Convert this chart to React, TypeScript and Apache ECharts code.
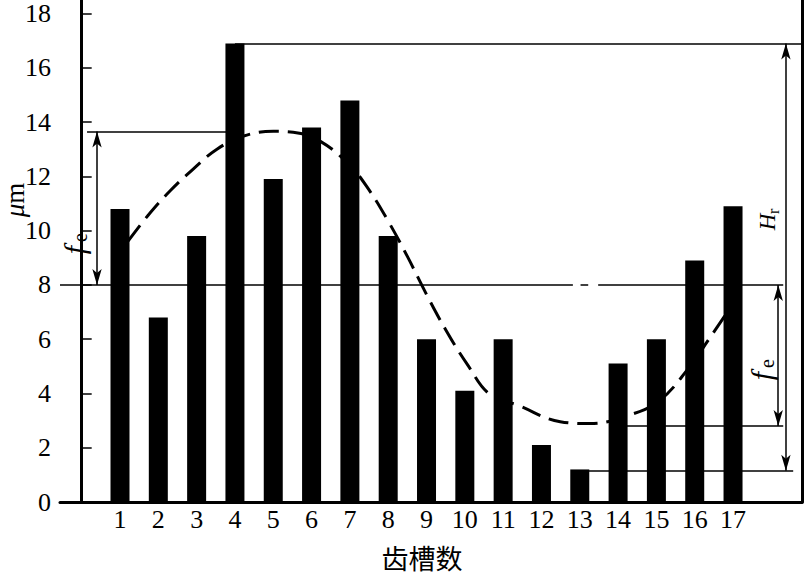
import React, { useEffect, useRef } from 'react';
import * as echarts from 'echarts';

// Slot numbers (x) and measured heights (µm)
const slots = [1, 2, 3, 4, 5, 6, 7, 8, 9, 10, 11, 12, 13, 14, 15, 16, 17];
const heights = [10.8, 6.8, 9.8, 16.9, 11.9, 13.8, 14.8, 9.8, 6.0, 4.1, 6.0, 2.1, 1.2, 5.1, 6.0, 8.9, 10.9];

// Dashed fitted curve
const curveX = [1.21, 1.73, 2.31, 2.91, 3.53, 4.21, 5.0, 5.52, 6.22, 7.0, 7.5, 8.0, 8.5, 9.0, 9.5, 10.06, 10.66, 11.36, 12.49, 13.27, 14.39, 15.1, 15.8, 16.4, 16.79];
const curveY = [9.61, 10.56, 11.47, 12.27, 13.0, 13.48, 13.66, 13.63, 13.3, 12.4, 11.5, 10.35, 9.05, 7.65, 6.35, 5.08, 3.95, 3.58, 2.96, 2.89, 3.25, 3.76, 4.86, 6.06, 6.87];

// Reference levels
const meanLevel = 8;
const peakLevel = 13.65;
const maxLevel = 16.9;
const troughLevel = 2.8;
const minLevel = 1.15;

const xMin = -0.566;
const xMax = 18.8;
const yTickStep = 2;

const SERIF = 'Liberation Serif';

function seg(x1: number, y1: number, x2: number, y2: number, arrows = false) {
  const sym = arrows ? 'arrow' : 'none';
  return [
    { coord: [x1, y1], symbol: sym, symbolSize: [7, 16] },
    { coord: [x2, y2], symbol: sym, symbolSize: [7, 16] },
  ];
}

function subLabel(x: number, y: number, main: string, sub: string, size: number, subSize: number, dx: number, dy: number) {
  return {
    type: 'group',
    x,
    y,
    rotation: Math.PI / 2,
    children: [
      {
        type: 'text',
        x: 0,
        y: 0,
        style: { text: main, fontFamily: SERIF, fontStyle: 'italic', fontSize: size, fill: '#000', textAlign: 'center', textVerticalAlign: 'middle' },
      },
      {
        type: 'text',
        x: dx,
        y: dy,
        style: { text: sub, fontFamily: SERIF, fontSize: subSize, fill: '#000', textAlign: 'left', textVerticalAlign: 'middle' },
      },
    ],
  };
}

export default function App() {
  const ref = useRef<HTMLDivElement>(null);

  useEffect(() => {
    if (!ref.current) return;
    const chart = echarts.init(ref.current, null, { renderer: 'svg' });
    const thin = { color: '#000', width: 1.5, type: 'solid' as const };

    chart.setOption({
      animation: false,
      backgroundColor: '#fff',
      textStyle: { fontFamily: SERIF },
      grid: { left: 60, right: 3, top: 0, bottom: 70, containLabel: false },
      xAxis: {
        type: 'value',
        min: xMin,
        max: xMax,
        minInterval: 1,
        maxInterval: 1,
        splitNumber: 19,
        axisLine: { show: true, onZero: false, lineStyle: { color: '#000', width: 3 } },
        axisTick: { show: false },
        splitLine: { show: false },
        axisLabel: {
          color: '#000',
          fontFamily: SERIF,
          fontSize: 26,
          margin: 4,
          showMinLabel: false,
          showMaxLabel: false,
          formatter: (v: number) => (Number.isInteger(v) && v >= 1 && v <= 17 ? String(v) : ''),
        },
        name: '齿槽数',
        nameLocation: 'middle',
        nameGap: 42,
        nameTextStyle: { color: '#000', fontFamily: 'Noto Sans CJK SC', fontSize: 27, padding: [0, 18, 0, 0] },
      },
      yAxis: [
        {
          type: 'value',
          min: 0,
          max: 18.5,
          interval: yTickStep,
          axisLine: { show: true, lineStyle: { color: '#000', width: 3 } },
          axisTick: { show: true, inside: true, length: 10, lineStyle: { color: '#000', width: 1.5 } },
          splitLine: { show: false },
          axisLabel: {
            color: '#000',
            fontFamily: SERIF,
            fontSize: 26,
            margin: 9,
            showMaxLabel: false,
            formatter: (v: number) => (v % 2 === 0 ? String(v) : ''),
          },
        },
        {
          type: 'value',
          position: 'right',
          min: 0,
          max: 18.5,
          interval: yTickStep,
          axisLine: { show: true, lineStyle: { color: '#000', width: 3 } },
          axisTick: { show: false },
          axisLabel: { show: false },
          splitLine: { show: false },
        },
      ],
      series: [
        {
          type: 'bar',
          data: slots.map((s, i) => [s, heights[i]]),
          barWidth: 19,
          itemStyle: { color: '#000' },
          z: 3,
          markLine: {
            silent: true,
            symbol: 'none',
            label: { show: false },
            lineStyle: thin,
            data: [
              seg(xMin, meanLevel, 12.82, meanLevel),
              seg(13.02, meanLevel, 13.22, meanLevel),
              seg(13.48, meanLevel, 18.31, meanLevel),
              seg(0.14, peakLevel, 4, peakLevel),
              seg(4, maxLevel, xMax, maxLevel),
              seg(14, troughLevel, 18.31, troughLevel),
              seg(13, minLevel, 18.57, minLevel),
              seg(0.4, meanLevel, 0.4, peakLevel, true),
              seg(18.18, meanLevel, 18.18, troughLevel, true),
              seg(18.38, maxLevel, 18.38, minLevel, true),
            ],
          },
        },
        {
          type: 'line',
          data: curveX.map((x, i) => [x, curveY[i]]),
          smooth: 0.4,
          showSymbol: false,
          symbol: 'none',
          lineStyle: { color: '#000', width: 3, type: [20, 9] },
          z: 4,
        },
      ],
      graphic: [
        {
          type: 'text',
          x: 15,
          y: 200,
          rotation: Math.PI / 2,
          style: {
            text: '{a|μ}{b|m}',
            textAlign: 'center',
            textVerticalAlign: 'middle',
            rich: {
              a: { fontFamily: SERIF, fontStyle: 'italic', fontSize: 27, fill: '#000' },
              b: { fontFamily: SERIF, fontSize: 27, fill: '#000' },
            },
          },
        },
        subLabel(74, 250, 'f', 'e', 30, 20, 8, 6),
        subLabel(761, 376, 'f', 'e', 30, 20, 8, 6),
        subLabel(767, 222, 'H', 'r', 23, 16, 8, 6),
      ],
    });
    return () => chart.dispose();
  }, []);

  return <div ref={ref} style={{ position: 'fixed', left: 0, top: 0, width: 805, height: 576 }} />;
}
